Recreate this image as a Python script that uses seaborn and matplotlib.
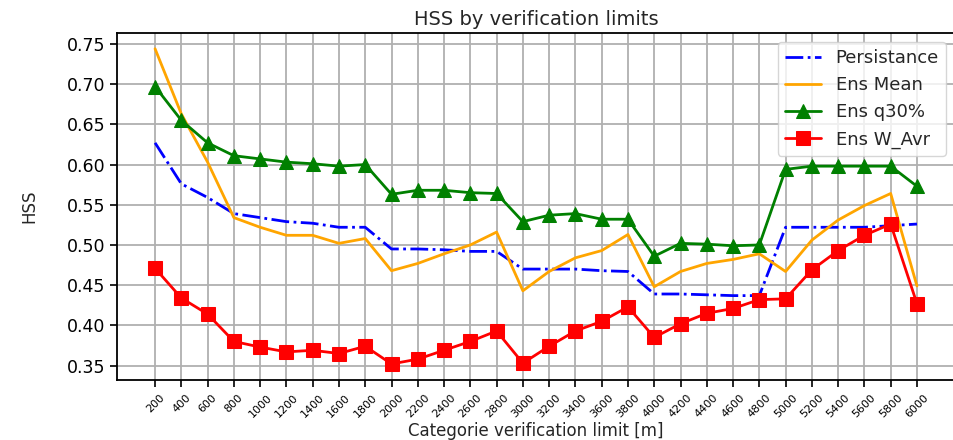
import numpy as np
import pandas as pd
import seaborn as sns
import matplotlib
matplotlib.use('Agg')
import matplotlib.pyplot as plt


# --- data ---
limits = [200, 400, 600, 800, 1000, 1200, 1400, 1600, 1800, 2000,
          2200, 2400, 2600, 2800, 3000, 3200, 3400, 3600, 3800, 4000,
          4200, 4400, 4600, 4800, 5000, 5200, 5400, 5600, 5800, 6000]

persistance = [0.627, 0.576, 0.559, 0.539, 0.534, 0.529, 0.527, 0.522, 0.522, 0.495,
               0.495, 0.494, 0.492, 0.492, 0.470, 0.470, 0.470, 0.468, 0.467, 0.439,
               0.439, 0.438, 0.437, 0.437, 0.522, 0.522, 0.522, 0.522, 0.524, 0.526]

ens_mean = [0.744, 0.663, 0.603, 0.534, 0.522, 0.512, 0.512, 0.502, 0.508, 0.468,
            0.477, 0.489, 0.500, 0.516, 0.443, 0.467, 0.484, 0.493, 0.513, 0.448,
            0.467, 0.477, 0.482, 0.489, 0.467, 0.506, 0.531, 0.549, 0.564, 0.449]

ens_q30 = [0.697, 0.655, 0.627, 0.611, 0.607, 0.603, 0.601, 0.598, 0.600, 0.563,
           0.568, 0.568, 0.565, 0.564, 0.529, 0.537, 0.539, 0.532, 0.532, 0.486,
           0.502, 0.501, 0.499, 0.500, 0.594, 0.598, 0.598, 0.598, 0.598, 0.573]

ens_wavr = [0.471, 0.434, 0.414, 0.380, 0.373, 0.367, 0.369, 0.365, 0.374, 0.352,
            0.358, 0.369, 0.380, 0.393, 0.353, 0.374, 0.393, 0.405, 0.423, 0.385,
            0.402, 0.415, 0.421, 0.432, 0.433, 0.469, 0.493, 0.512, 0.526, 0.427]

pos = np.arange(len(limits))

sns.set_style("ticks")
plt.rcParams['font.family'] = ['DejaVu Sans']

fig = plt.figure(figsize=(9.54, 4.4), dpi=100)
ax = fig.add_axes([0.1226, 0.137, 0.8785, 0.788])

sns.lineplot(x=pos, y=persistance, color='blue', linestyle='-.', linewidth=2,
             label='Persistance', ax=ax)
sns.lineplot(x=pos, y=ens_mean, color='orange', linestyle='-', linewidth=2,
             label='Ens Mean', ax=ax)
sns.lineplot(x=pos, y=ens_q30, color='green', linestyle='-', linewidth=2,
             marker='^', markersize=10, markeredgecolor='green',
             label='Ens q30%', ax=ax)
sns.lineplot(x=pos, y=ens_wavr, color='red', linestyle='-', linewidth=2,
             marker='s', markersize=10, markeredgecolor='red',
             label='Ens W_Avr', ax=ax)

ax.set_xticks(pos)
ax.set_xticklabels([str(v) for v in limits], rotation=45, fontsize=8)
ax.set_yticks(np.arange(0.35, 0.76, 0.05))
ax.yaxis.set_major_formatter(matplotlib.ticker.FormatStrFormatter('%.2f'))
ax.tick_params(axis='y', labelsize=12.5)
ax.tick_params(axis='x', pad=4)
ax.margins(x=0.05, y=0.05)

ax.grid(True, color='#b0b0b0', linewidth=1.3)
ax.set_axisbelow(True)
for s in ax.spines.values():
    s.set_color('black')
    s.set_linewidth(1.3)
ax.tick_params(colors='black', width=1.2, length=5)

ax.set_title('HSS by verification limits', fontsize=14)
ax.set_xlabel('Categorie verification limit [m]', fontsize=12, labelpad=2)
ax.set_ylabel('HSS', fontsize=12, labelpad=20)
ax.legend(loc='upper right', fontsize=13, frameon=True)

plt.savefig('out.png', dpi=100)
plt.close()
